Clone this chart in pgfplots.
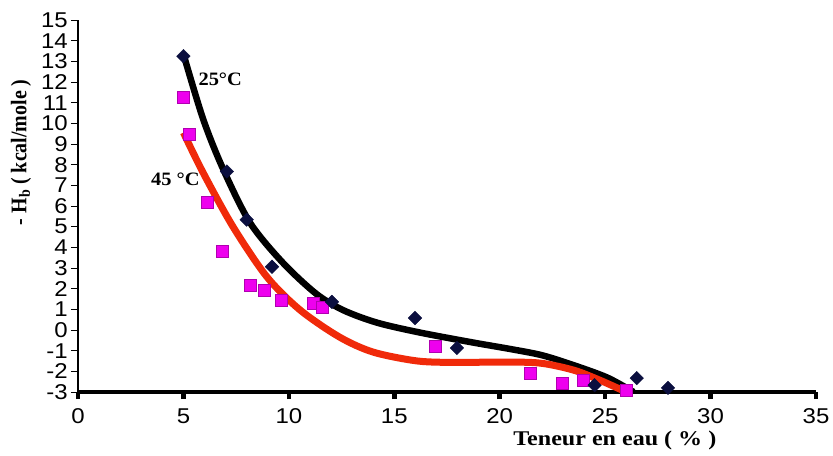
\documentclass[border=0pt]{standalone}
\usepackage{fontspec}
\setmainfont{Liberation Serif}
\newfontfamily\tickfont[FakeStretch=1.12]{Liberation Sans}
\newfontfamily\lblfont[FakeStretch=1.15]{Liberation Serif}
\newfontfamily\tagfont[FakeStretch=1.08]{Liberation Serif}
\usepackage{pgfplots}
\pgfplotsset{compat=1.18}
\definecolor{navy}{HTML}{0B0F3F}
\definecolor{mag}{HTML}{EE00EE}
\definecolor{magedge}{HTML}{B000B0}
\definecolor{fitred}{HTML}{F02A0A}

\begin{document}
\begin{tikzpicture}
\begin{axis}[
  at={(0,0)}, anchor=south west,
  scale only axis, width=738bp, height=372bp,
  xmin=0, xmax=35, ymin=-3, ymax=15,
  xtick={0,5,...,35}, ytick={-3,-2,...,15},
  axis x line*=bottom, axis y line*=left,
  x axis line style={line width=4pt},
  y axis line style={line width=1.3pt},
  tick align=outside, major tick length=7bp,
  xtick style={line width=4.5pt, black},
  ytick style={line width=1pt, black},
  tick label style={font=\tickfont\fontsize{21.5}{21.5}\selectfont},
  /pgf/number format/assume math mode=true,
  xticklabel style={yshift=-6bp},
  yticklabel style={xshift=-2bp, inner sep=1pt},
  clip=false,
]
% 45 C measurements
\addplot[only marks, mark=square*, mark size=6bp,
  mark options={fill=mag, draw=magedge, line width=0.6pt}] coordinates {
  (4.98,11.26) (5.27,9.47) (6.15,6.16) (6.82,3.8) (8.17,2.15) (8.85,1.92)
  (9.62,1.45) (11.15,1.3) (11.6,1.12) (16.93,-0.8) (21.43,-2.1)
  (22.95,-2.57) (23.95,-2.43) (26.0,-2.9)
};
% 25 C measurements
\addplot[only marks, mark=square*, mark size=4.8bp,
  mark options={fill=navy, draw=navy, rotate=45}] coordinates {
  (5,13.25) (7.06,7.67) (8.0,5.34) (9.2,3.06) (12.04,1.36) (15.98,0.58)
  (17.97,-0.87) (24.5,-2.67) (26.5,-2.33) (27.98,-2.8)
};
% fitted curves
\addplot[black, line width=6.5bp, smooth, no markers] coordinates {
  (5,13.35) (5.94,10.19) (6.89,7.77) (8.16,5.19) (9.72,3.25) (11.3,1.75)
  (12.6,0.95) (14.2,0.35) (16.2,-0.12) (18.7,-0.6) (20.5,-0.92)
  (22,-1.22) (23.5,-1.7) (25.1,-2.3) (26.35,-3)
};
\addplot[fitred, line width=7bp, smooth, no markers] coordinates {
  (5,9.55) (5.94,7.6) (7.35,5.0) (8.96,2.57) (10.53,0.97) (12.4,-0.34)
  (14,-1.07) (16.1,-1.5) (18,-1.57) (20,-1.55) (21.9,-1.6) (23.5,-1.94)
  (24.75,-2.43) (26,-3)
};
\node[anchor=west, font=\tagfont\bfseries\fontsize{19}{19}\selectfont]
  at (axis cs:5.55,12.14) {25°C};
\node[anchor=west, font=\tagfont\bfseries\fontsize{19}{19}\selectfont]
  at (axis cs:3.3,7.28) {45 °C};
\node[font=\lblfont\bfseries\fontsize{21}{21}\selectfont]
  at (axis cs:25.46,-5.34) {Teneur en eau ( \% )};
\node[rotate=90, yscale=1.12, font=\bfseries\fontsize{20}{20}\selectfont]
  at (axis cs:-2.7,8.6) {- H\textsubscript{b} ( kcal/mole )};
\end{axis}
\path[use as bounding box] (-78bp,-64bp) rectangle (755bp,392bp);
\end{tikzpicture}
\end{document}
